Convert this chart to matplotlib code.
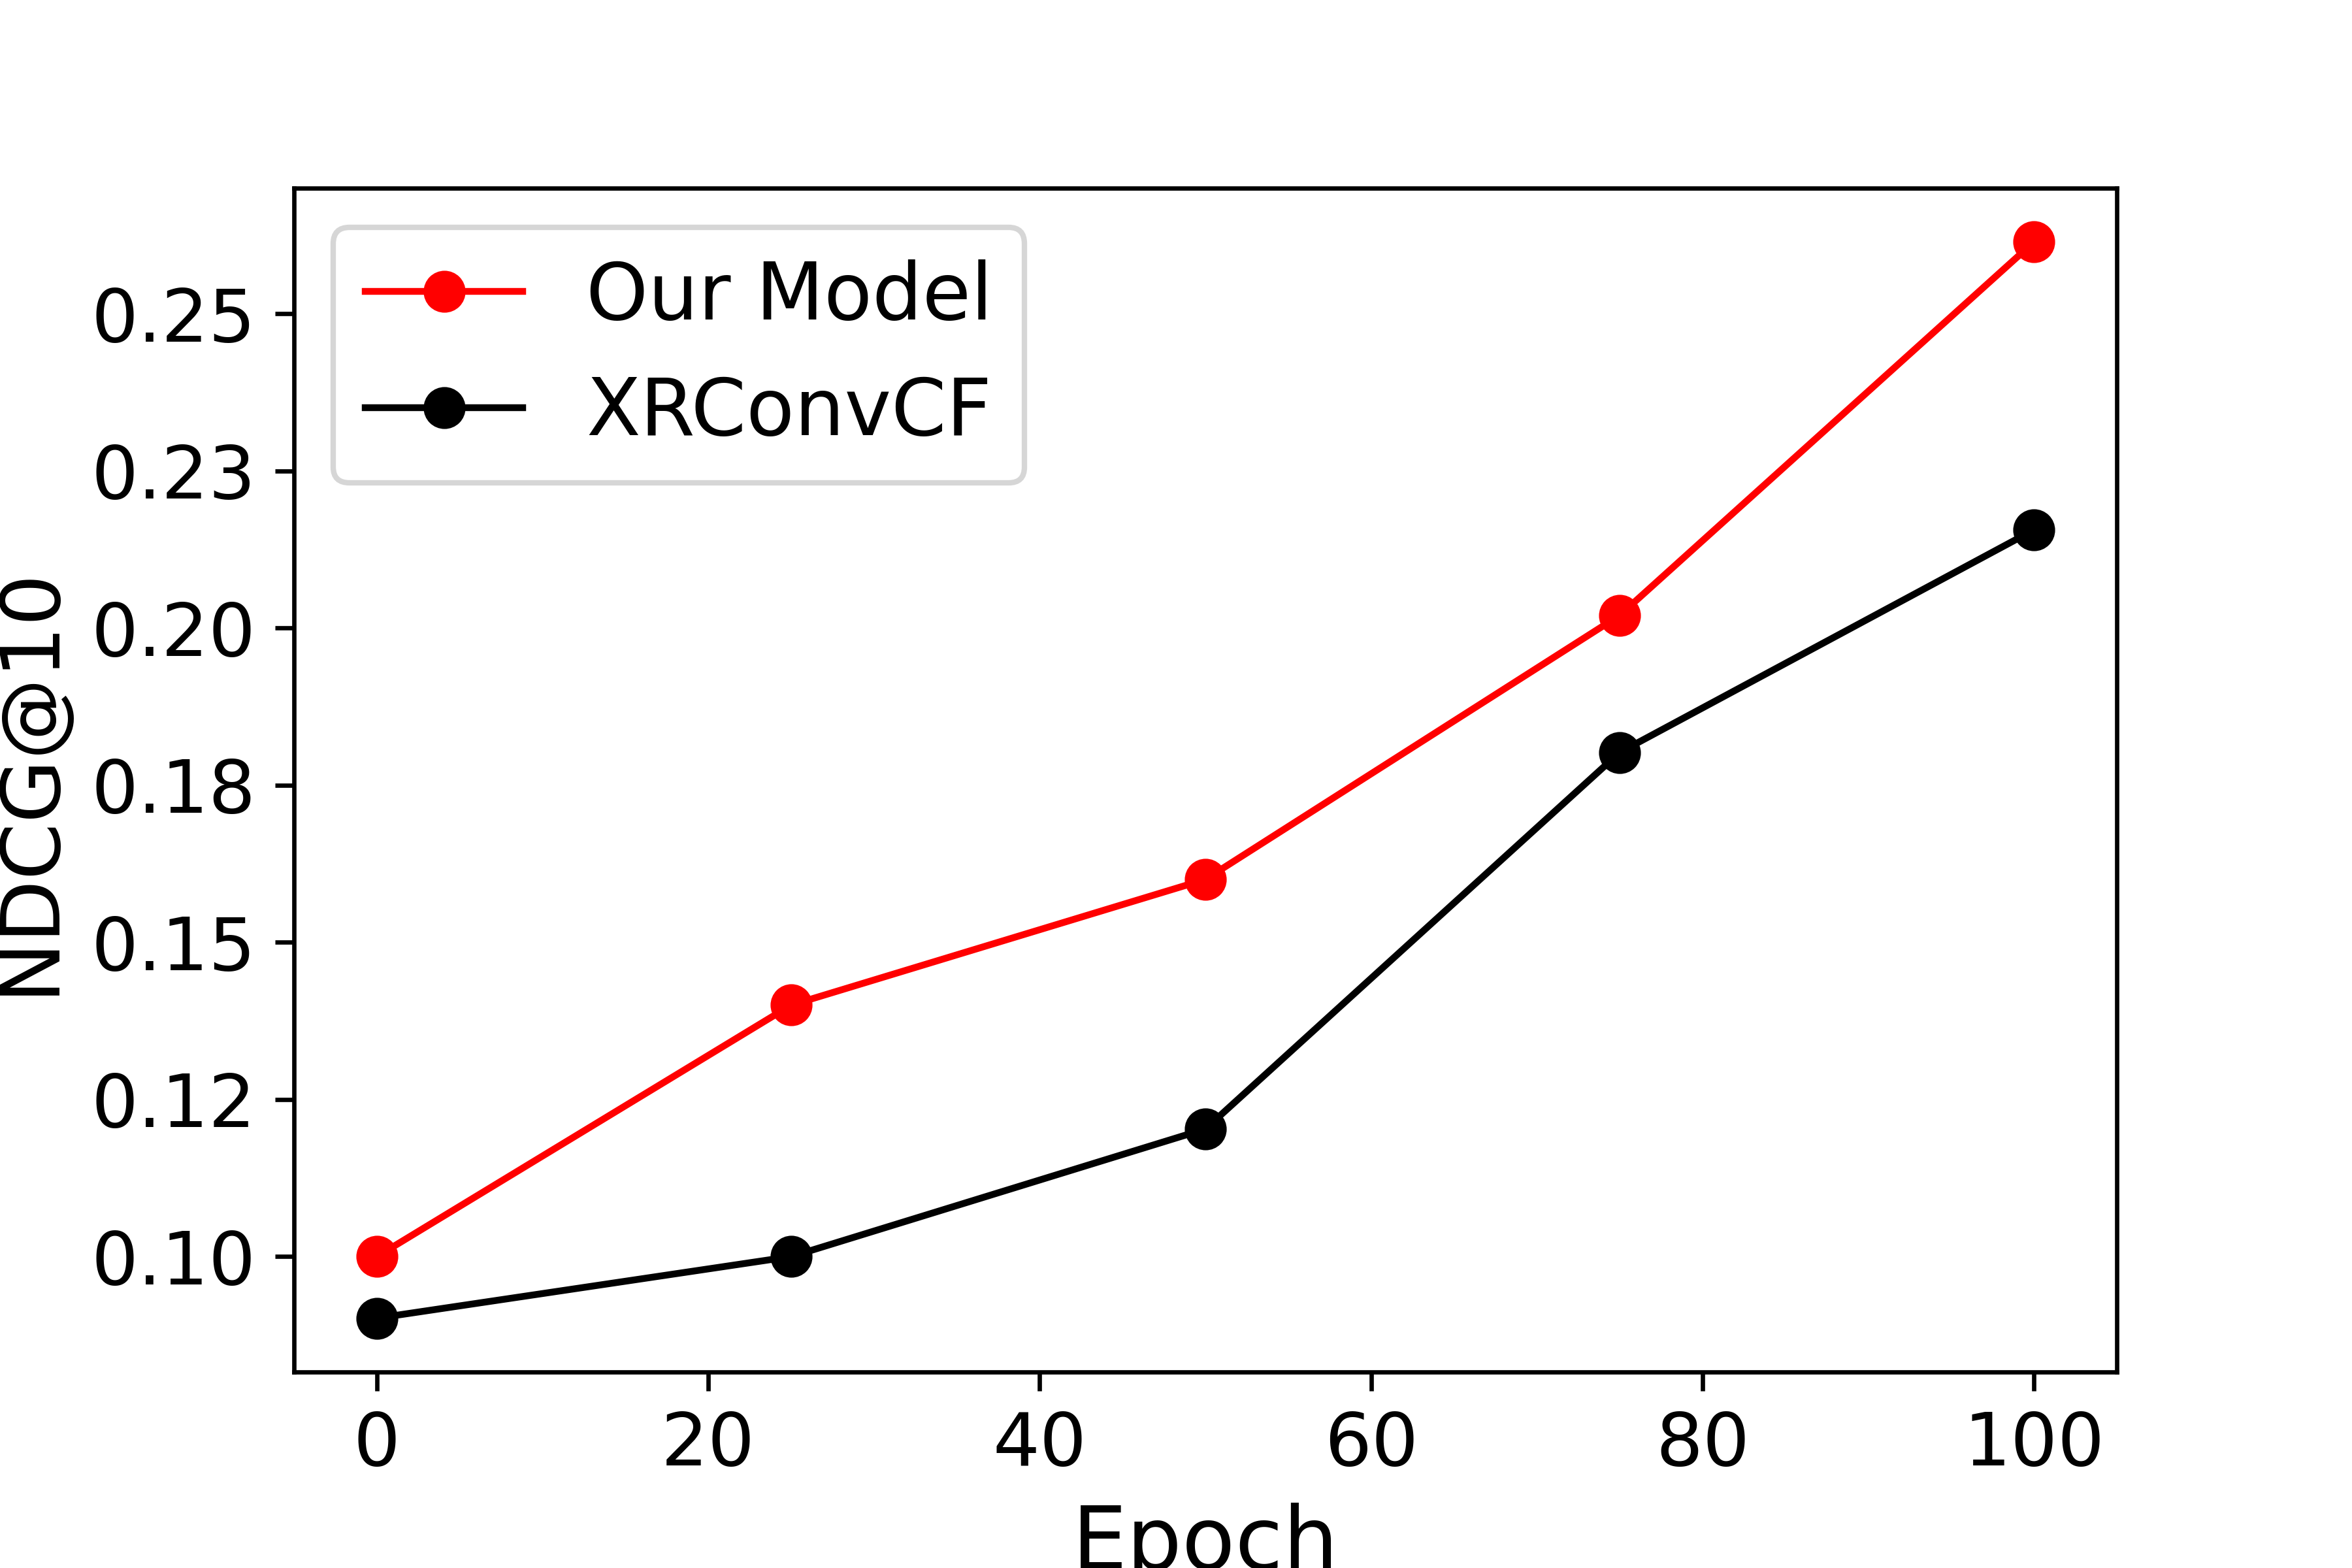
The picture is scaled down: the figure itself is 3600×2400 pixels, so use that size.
import matplotlib
matplotlib.use("Agg")
import matplotlib.pyplot as plt
from matplotlib.ticker import FixedLocator, FixedFormatter

epochs = [0, 25, 50, 75, 100]
our_model = [0.100, 0.140, 0.160, 0.202, 0.2614]
xrconvcf = [0.0902, 0.100, 0.1203, 0.1802, 0.2156]
ytick_vals = [0.100, 0.125, 0.150, 0.175, 0.200, 0.225, 0.250]
ytick_labels = ["0.10", "0.12", "0.15", "0.18", "0.20", "0.23", "0.25"]
xtick_vals = [0, 20, 40, 60, 80, 100]

fig = plt.figure(figsize=(6, 4), dpi=600)
ax = fig.add_axes([0.125, 0.125, 0.775, 0.755])

ax.plot(epochs, our_model, color="red", marker="o", lw=1.25, ms=6.7, label="Our Model")
ax.plot(epochs, xrconvcf, color="black", marker="o", lw=1.25, ms=6.7, label="XRConvCF")

ax.yaxis.set_major_locator(FixedLocator(ytick_vals))
ax.yaxis.set_major_formatter(FixedFormatter(ytick_labels))
ax.set_xticks(xtick_vals)
ax.tick_params(labelsize=13.6)
ax.set_xlabel("Epoch", fontsize=16)
ax.set_ylabel("NDCG@10", fontsize=15)
ax.legend(loc="upper left", fontsize=14.5)

fig.savefig("out.png", dpi=600)
